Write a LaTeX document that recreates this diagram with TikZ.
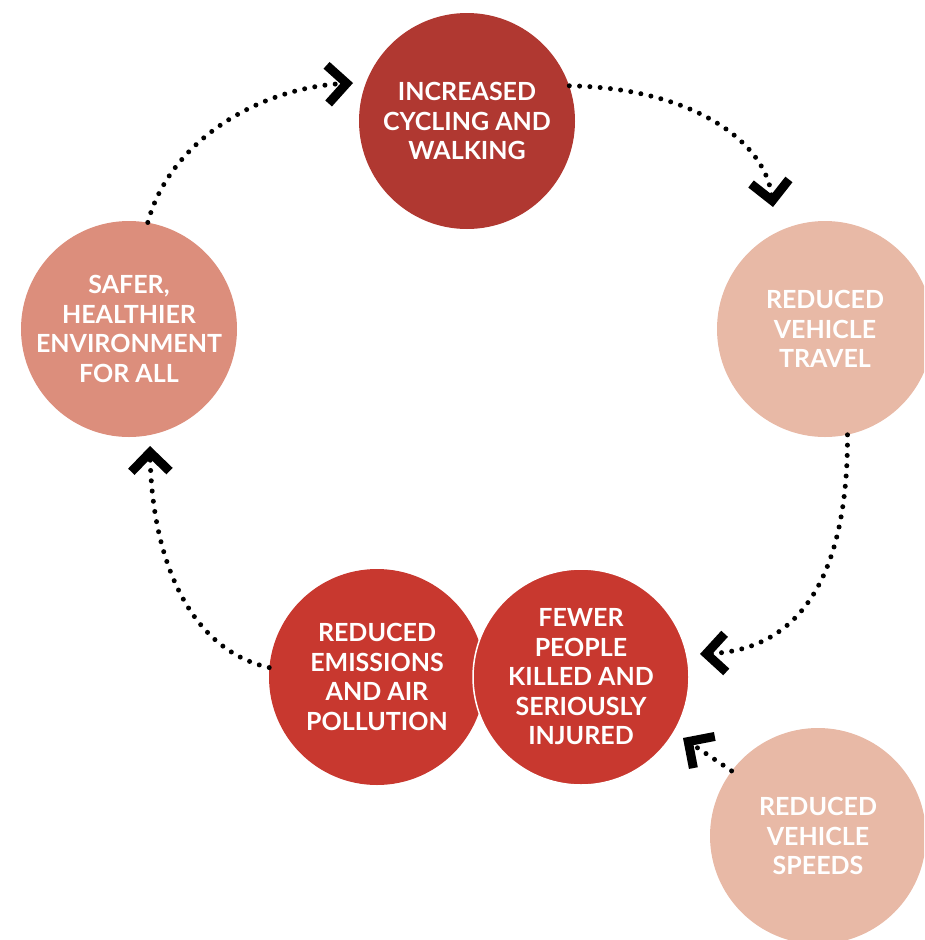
\documentclass[tikz,border=0pt]{standalone}
\usepackage{fontspec}
\setmainfont{Lato}
\usetikzlibrary{arrows.meta}

\definecolor{darkred}{RGB}{176,56,49}
\definecolor{mainred}{RGB}{200,56,47}
\definecolor{salmon}{RGB}{220,142,124}
\definecolor{lightpink}{RGB}{232,185,166}

\begin{document}
\begin{tikzpicture}[x=1pt,y=-1pt,
    bubble/.style={circle,minimum size=216pt,inner sep=0pt,text=white,align=center,
        font=\fontsize{25}{29.5}\selectfont\bfseries},
    loop/.style={line width=5pt,line cap=round,dash pattern=on 0pt off 10.3pt,
        -{Straight Barb[sharp,angle=90:27pt,line width=9pt]}}]
    \useasboundingbox (0,0) rectangle (924,940);
    \clip (0,0) rectangle (924,940);

    % Circles
    \node[bubble,fill=darkred] (cycling) at (467,121) {INCREASED\\CYCLING AND\\WALKING};
    \node[bubble,fill=lightpink] (travel) at (825,329) {REDUCED\\VEHICLE\\TRAVEL};
    \node[bubble,fill=mainred] (emissions) at (377,677) {REDUCED\\EMISSIONS\\AND AIR\\POLLUTION};
    \node[bubble,fill=mainred,draw=white,line width=1.5pt] (fewer) at (581,677) {FEWER\\PEOPLE\\KILLED AND\\SERIOUSLY\\INJURED};
    \node[bubble,fill=salmon] (safer) at (129,329) {SAFER,\\HEALTHIER\\ENVIRONMENT\\FOR ALL};
    \node[bubble,fill=lightpink] (speeds) at (818,836) {REDUCED\\VEHICLE\\SPEEDS};

    % Arrow tips
    \coordinate (tipA) at (773,207);
    \coordinate (tipB) at (700,654);
    \coordinate (tipC) at (683,738);
    \coordinate (tipD) at (150,446);
    \coordinate (tipE) at (353,83);

    % Dotted arrows
    \draw[loop] (cycling.19) .. controls (690,88) and (765,140) .. (tipA);
    \draw[loop] (travel.282) .. controls (848,590) and (790,650) .. (tipB);
    \draw[loop] (speeds.143) -- (tipC);
    \draw[loop] (emissions.175) .. controls (190,650) and (152,560) .. (tipD);
    \draw[loop] (safer.80) .. controls (170,140) and (260,88) .. (tipE);
\end{tikzpicture}
\end{document}
